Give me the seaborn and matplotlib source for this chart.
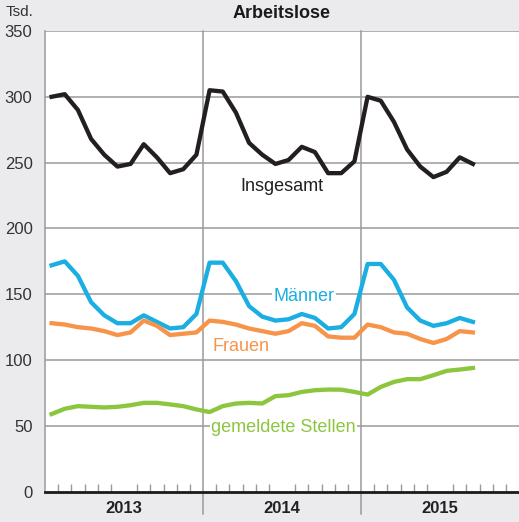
import numpy as np
import pandas as pd
import matplotlib
matplotlib.use("Agg")
import matplotlib.pyplot as plt
import matplotlib.transforms as mtransforms
import seaborn as sns

# Monthly values in thousands, Jan 2013 .. Sep 2015
years = ["2013", "2014", "2015"]
insgesamt = [300, 302, 290, 268, 256, 247, 249, 264, 254, 242, 245, 256,
             305, 304, 288, 265, 256, 249, 252, 262, 258, 242, 242, 251,
             300, 297, 281, 260, 247, 239, 243, 254, 249]
maenner = [172, 175, 164, 144, 134, 128, 128, 134, 129, 124, 125, 135,
           174, 174, 160, 141, 133, 130, 131, 135, 132, 124, 125, 135,
           173, 173, 161, 140, 130, 126, 128, 132, 129]
frauen = [128, 127, 125, 124, 122, 119, 121, 130, 126, 119, 120, 121,
          130, 129, 127, 124, 122, 120, 122, 128, 126, 118, 117, 117,
          127, 125, 121, 120, 116, 113, 116, 122, 121]
stellen = [59, 63, 65, 64.5, 64, 64.5, 65.7, 67.5, 67.5, 66.3, 65, 62.5,
           60.5, 65, 67, 67.5, 67, 72.6, 73.3, 75.8, 77.1, 77.6, 77.5, 75.8,
           73.8, 79.6, 83.4, 85.5, 85.5, 88.5, 91.8, 92.8, 94]

series_names = ["Insgesamt", "Männer", "Frauen", "gemeldete Stellen"]
series_values = [insgesamt, maenner, frauen, stellen]
colors = {"Insgesamt": "#231f20", "Männer": "#1aaee2",
          "Frauen": "#f7944b", "gemeldete Stellen": "#8cc63f"}

frames = []
for name, vals in zip(series_names, series_values):
    frames.append(pd.DataFrame({"monat": np.arange(len(vals)) + 0.5,
                                "wert": vals, "reihe": name}))
df = pd.concat(frames, ignore_index=True)

bg = "#ebebed"
grid_c = "#9a9a9a"
text_c = "#333333"

fig = plt.figure(figsize=(5.19, 5.22), dpi=100, facecolor=bg)
ax = fig.add_axes([45 / 519, 30.3 / 522, 1 - 45 / 519, (491 - 30.3) / 522])
ax.set_facecolor("white")

n_months = 12 * len(years)
ax.set_xlim(0, n_months)
ax.set_ylim(0, 350)

# Grid
for y in range(50, 351, 50):
    ax.axhline(y, color=grid_c, lw=1.1, zorder=1)
trans = mtransforms.blended_transform_factory(ax.transData, ax.transAxes)
for k in range(1, len(years)):
    ax.plot([12 * k, 12 * k], [1, -0.048], transform=trans, color=grid_c,
            lw=1.1, clip_on=False, zorder=1)

sns.lineplot(data=df, x="monat", y="wert", hue="reihe", palette=colors,
             linewidth=3.1, legend=False, ax=ax, zorder=3)

# Series labels
labels = [("Insgesamt", 18.0, 232), ("Männer", 19.7, 148),
          ("Frauen", 14.9, 110), ("gemeldete Stellen", 18.1, 48.5)]
for name, x, y in labels:
    ax.text(x, y, name, color=colors[name], fontsize=13, ha="center",
            va="center", family="Liberation Sans", zorder=2,
            bbox=dict(facecolor="white", edgecolor="none", pad=1.0))

# Axes styling
for side in ["top", "right"]:
    ax.spines[side].set_visible(False)
ax.spines["left"].set_color(grid_c)
ax.spines["left"].set_linewidth(1.1)
ax.spines["bottom"].set_color("#1a1a1a")
ax.spines["bottom"].set_linewidth(2)
ax.spines["bottom"].set_zorder(4)

ax.set_yticks(range(0, 351, 50))
ax.set_yticklabels([str(v) for v in range(0, 351, 50)], fontsize=12,
                   color=text_c, family="Liberation Sans")
ax.tick_params(axis="y", length=0, pad=9)

minor = [m for m in range(1, n_months) if m % 12 != 0]
ax.set_xticks(minor, minor=True)
ax.set_xticks([6 + 12 * i for i in range(len(years))])
ax.set_xticklabels(years, fontsize=12, fontweight="bold", color="#222222",
                   family="Liberation Sans")
ax.tick_params(axis="x", which="major", length=0, pad=7)
ax.tick_params(axis="x", which="minor", direction="in", length=5.5,
               width=1, color=grid_c)
ax.set_xlabel("")
ax.set_ylabel("")

fig.text(6 / 519, 1 - 12 / 522, "Tsd.", fontsize=11, color=text_c,
         family="Liberation Sans", va="center", ha="left")
fig.text(282 / 519, 1 - 14 / 522, "Arbeitslose", fontsize=13,
         fontweight="bold", color="#1a1a1a", family="Liberation Sans",
         ha="center", va="center")

fig.savefig("out.png", dpi=100, facecolor=bg)
